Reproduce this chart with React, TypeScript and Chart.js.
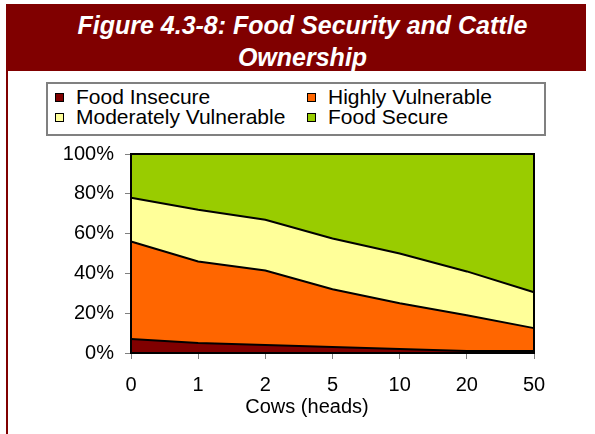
import React, { useEffect, useRef } from "react";
import { Chart, registerables } from "chart.js";

Chart.register(...registerables);

const categories = ["0", "1", "2", "5", "10", "20", "50"];
const foodInsecure = [7, 5, 4, 3, 2, 1, 1];
const highlyVulnerable = [49, 41, 37.5, 29, 23, 18, 11.5];
const moderatelyVulnerable = [22, 26, 25.5, 25.5, 25, 22, 18];
const foodSecure = [22, 28, 33, 42.5, 50, 59, 69.5];

const seriesNames = ["Food Insecure", "Highly Vulnerable", "Moderately Vulnerable", "Food Secure"];
const seriesColors = ["#800000", "#FF6600", "#FFFF99", "#99CC00"];
const titleLines = ["Figure 4.3-8: Food Security and Cattle", "Ownership"];
const xTitle = "Cows (heads)";

const FONT = "'Liberation Sans', Arial, sans-serif";

const framePlugin = {
  id: "frame",
  afterDatasetsDraw(chart: any) {
    const { ctx, chartArea } = chart;
    const { left, top, right, bottom } = chartArea;
    ctx.save();
    ctx.strokeStyle = "#000";
    ctx.lineWidth = 2;
    ctx.strokeRect(left, top, right - left, bottom - top);
    ctx.restore();
  },
};

export default function App() {
  const ref = useRef<HTMLCanvasElement | null>(null);

  useEffect(() => {
    if (!ref.current) return;
    const values = [foodInsecure, highlyVulnerable, moderatelyVulnerable, foodSecure];
    const chart = new Chart(ref.current, {
      type: "line",
      data: {
        labels: categories,
        datasets: values.map((v, i) => ({
          label: seriesNames[i],
          data: v,
          backgroundColor: seriesColors[i],
          borderColor: "#000",
          borderWidth: 2,
          pointRadius: 0,
          tension: 0,
          fill: i === 0 ? "origin" : "-1",
        })),
      },
      options: {
        responsive: false,
        animation: false,
        layout: { padding: { left: 0, right: 61, top: 4, bottom: 0 } },
        plugins: {
          legend: { display: false },
          tooltip: { enabled: false },
          title: { display: false },
        },
        scales: {
          x: {
            type: "category",
            offset: false,
            grid: { drawOnChartArea: false, drawTicks: true, tickLength: 6, color: "#808080", lineWidth: 1 },
            border: { display: false },
            ticks: { color: "#000", font: { family: FONT, size: 20 }, padding: 14, maxRotation: 0, autoSkip: false },
            afterFit: (scale: any) => {
              scale.height = 81;
            },
          },
          y: {
            stacked: true,
            min: 0,
            max: 100,
            grid: { drawOnChartArea: false, drawTicks: true, tickLength: 6, color: "#808080", lineWidth: 1 },
            border: { display: false },
            ticks: {
              stepSize: 20,
              color: "#000",
              font: { family: FONT, size: 20 },
              padding: 11,
              callback: (v: any) => v + "%",
            },
            afterFit: (scale: any) => {
              scale.width = 131;
            },
          },
        },
      },
      plugins: [framePlugin],
    });
    return () => chart.destroy();
  }, []);

  const legendItem = (i: number, left: number, top: number) => (
    <div key={i} style={{ position: "absolute", left, top, height: 20, display: "flex", alignItems: "center" }}>
      <div
        style={{
          width: 7,
          height: 7,
          background: seriesColors[i],
          border: "1px solid #000",
          marginRight: 12,
        }}
      />
      <span style={{ fontFamily: FONT, fontSize: 21, color: "#000", lineHeight: "20px", whiteSpace: "nowrap" }}>
        {seriesNames[i]}
      </span>
    </div>
  );

  return (
    <div style={{ position: "absolute", left: 0, top: 0, width: 595, height: 434, background: "#fff", overflow: "hidden" }}>
      <div
        style={{
          position: "absolute",
          left: 6,
          top: 4,
          width: 580,
          height: 67,
          background: "#800000",
          color: "#fff",
          fontFamily: FONT,
          fontWeight: "bold",
          fontStyle: "italic",
          fontSize: 25,
          lineHeight: "32px",
          textAlign: "center",
          paddingTop: 5,
          paddingLeft: 13,
          boxSizing: "border-box",
        }}
      >
        {titleLines.map((t, i) => (
          <div key={i} style={{ whiteSpace: "nowrap" }}>{t}</div>
        ))}
      </div>
      <div style={{ position: "absolute", left: 6, top: 70, width: 2, height: 364, background: "#800000" }} />
      <div
        style={{
          position: "absolute",
          left: 46,
          top: 82,
          width: 500,
          height: 54,
          border: "2px solid #808080",
          boxSizing: "border-box",
        }}
      />
      {legendItem(0, 55, 87)}
      {legendItem(1, 307, 87)}
      {legendItem(2, 55, 107)}
      {legendItem(3, 307, 107)}
      <div style={{ position: "absolute", left: 0, top: 131, width: 595, height: 303 }}>
        <canvas ref={ref} width={595} height={303} style={{ width: 595, height: 303, display: "block" }} />
      </div>
      <div
        style={{
          position: "absolute",
          left: 207,
          top: 394,
          width: 200,
          textAlign: "center",
          fontFamily: FONT,
          fontSize: 20,
          lineHeight: "24px",
          color: "#000",
        }}
      >
        {xTitle}
      </div>
    </div>
  );
}
